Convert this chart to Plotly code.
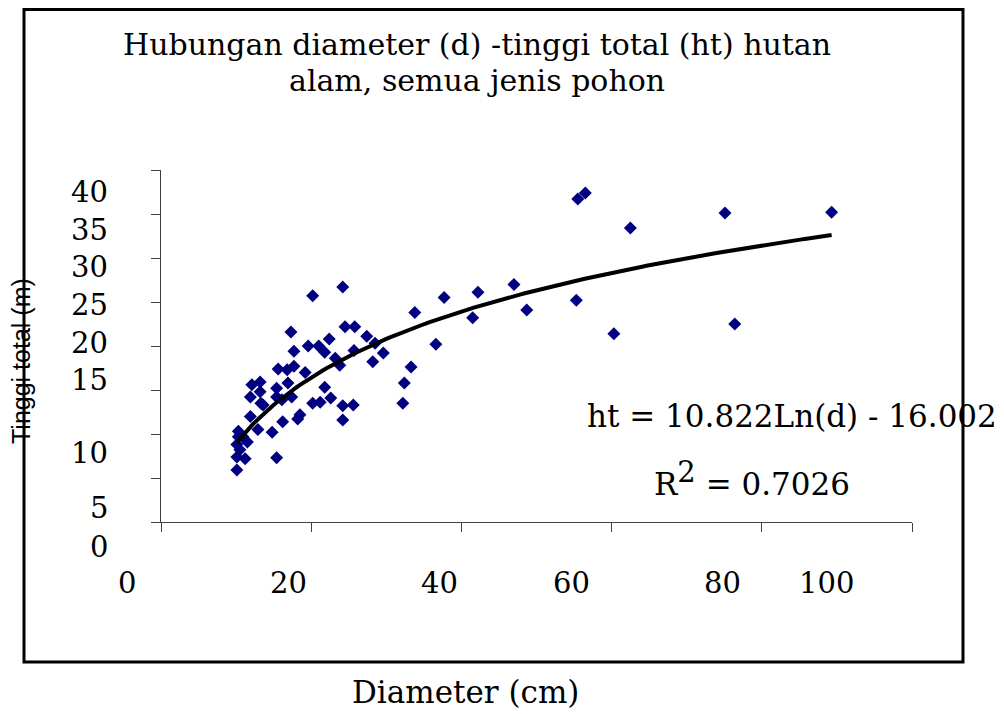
import numpy as np
import plotly.graph_objects as go

# Field measurements: stem diameter (cm) and total tree height (m)
diameter_cm = [
    56.5, 55.5, 62.5, 75.1, 89.3, 48.7, 55.3, 60.3, 76.4, 47.0,
    42.2, 37.7, 41.5, 33.8, 36.6, 33.3, 32.4, 32.2, 29.6, 28.5,
    27.4, 28.2, 24.2, 20.2, 24.5, 25.8, 17.3, 22.4, 19.6, 21.0,
    21.8, 25.7, 17.7, 23.2, 23.8, 15.6, 17.7, 19.2, 12.1, 13.2,
    11.9, 13.2, 15.4, 16.9, 15.4, 16.1, 17.4, 13.3, 21.8, 22.6,
    20.2, 21.2, 18.5, 18.2, 24.2, 25.6, 24.2, 11.9, 12.9, 16.2,
    14.8, 15.4, 10.3, 11.5, 10.1, 10.5, 10.1, 11.2, 10.1, 13.6,
    10.9, 16.8, 10.3,
]
tinggi_m = [
    37.4, 36.7, 33.4, 35.1, 35.2, 24.1, 25.2, 21.4, 22.5, 27.0,
    26.1, 25.5, 23.2, 23.8, 20.2, 17.6, 15.8, 13.5, 19.2, 20.3,
    21.1, 18.2, 26.7, 25.7, 22.2, 22.2, 21.6, 20.8, 20.0, 20.0,
    19.3, 19.5, 19.4, 18.6, 17.8, 17.4, 17.7, 17.0, 15.6, 15.9,
    14.2, 14.8, 15.2, 15.8, 14.2, 13.9, 14.2, 13.5, 15.3, 14.1,
    13.5, 13.6, 12.2, 11.7, 13.2, 13.3, 11.6, 12.0, 10.5, 11.4,
    10.2, 7.3, 10.3, 9.1, 8.8, 8.2, 7.4, 7.2, 5.9, 13.3,
    9.7, 17.3, 9.7,
]

# Logarithmic trendline: ht = a * ln(d) + b
trend_a = 10.822
trend_b = -16.002
r_squared = 0.7026

x_ticks = [0, 20, 40, 60, 80, 100]
y_ticks = [0, 5, 10, 15, 20, 25, 30, 35, 40]

# Per-label pixel offsets of the tick text relative to its tick
x_label_dx = [-34, -23, -22, -40, -39, -86]
y_label_dy = [-25, -30, -19, 10, 3, -3, -9, -16, -22]

SERIF = "DejaVu Serif"
SANS = "Liberation Sans, Arial, sans-serif"

# Plot-area geometry in pixels
W, H = 1004, 714
L, R, T, B = 161, 92, 170, 192
PW, PH = W - L - R, H - T - B


def px_x(px):
    return (px - L) / PW


def px_y(py):
    return (H - B - py) / PH


fig = go.Figure()

fig.add_trace(go.Scatter(
    x=diameter_cm, y=tinggi_m, mode="markers",
    marker=dict(symbol="diamond", size=10, color="#000080", line=dict(width=0)),
    showlegend=False, hoverinfo="x+y",
))

d_line = np.linspace(min(diameter_cm), max(diameter_cm), 200)
fig.add_trace(go.Scatter(
    x=d_line, y=trend_a * np.log(d_line) + trend_b, mode="lines",
    line=dict(color="black", width=4), showlegend=False, hoverinfo="skip",
))

axis_common = dict(
    showgrid=False, zeroline=False, showline=True, linecolor="#404040",
    linewidth=1.3, ticks="outside", ticklen=9, tickcolor="#404040",
    tickwidth=1.3, showticklabels=False, fixedrange=True,
)

fig.update_layout(
    width=W, height=H,
    margin=dict(l=L, r=R, t=T, b=B),
    paper_bgcolor="white", plot_bgcolor="white",
    xaxis=dict(range=[0, 100], tickvals=x_ticks, **axis_common),
    yaxis=dict(range=[0, 40], tickvals=y_ticks, **axis_common),
)

annotations = []

# Two-line chart title
title_lines = ["Hubungan diameter (d) -tinggi total (ht) hutan", "alam, semua jenis pohon"]
for line, py in zip(title_lines, [44, 81]):
    annotations.append(dict(
        x=px_x(477), xref="paper", y=px_y(py), yref="paper", text=line,
        showarrow=False, xanchor="center", yanchor="middle",
        font=dict(family=SERIF, size=30, color="black"),
    ))

for val, dx in zip(x_ticks, x_label_dx):
    annotations.append(dict(
        x=val, xref="x", y=0, yref="y", text=str(val), showarrow=False,
        xanchor="center", yanchor="middle", xshift=dx, yshift=-61,
        font=dict(family=SERIF, size=29, color="black"),
    ))
for val, dy in zip(y_ticks, y_label_dy):
    annotations.append(dict(
        x=0, xref="x", y=val, yref="y", text=str(val), showarrow=False,
        xanchor="right", yanchor="middle", xshift=-51, yshift=dy,
        font=dict(family=SERIF, size=29, color="black"),
    ))

# Axis titles
annotations.append(dict(
    x=px_x(465), xref="paper", y=px_y(692), yref="paper",
    text="Diameter (cm)", showarrow=False, xanchor="center", yanchor="middle",
    font=dict(family=SERIF, size=31, color="black"),
))
annotations.append(dict(
    x=px_x(21), xref="paper", y=px_y(361), yref="paper",
    text="Tinggi total (m)", showarrow=False, textangle=-90,
    xanchor="center", yanchor="middle",
    font=dict(family=SANS, size=25, color="black"),
))

# Trendline equation and goodness of fit
annotations.append(dict(
    x=px_x(792), xref="paper", y=px_y(416), yref="paper",
    text=f"ht = {trend_a:.3f}Ln(d) - {abs(trend_b):.3f}", showarrow=False,
    xanchor="center", yanchor="middle",
    font=dict(family=SERIF, size=31, color="black"),
))
annotations.append(dict(
    x=px_x(752), xref="paper", y=px_y(478), yref="paper",
    text=f"R<sup><span style='font-size:29px'>2</span></sup> = {r_squared:.4f}",
    showarrow=False, xanchor="center", yanchor="middle",
    font=dict(family=SERIF, size=31, color="black"),
))
fig.update_layout(annotations=annotations)

# Chart frame
fig.add_shape(
    type="rect", xref="paper", yref="paper",
    x0=px_x(24), x1=px_x(963), y0=px_y(662), y1=px_y(9.5),
    line=dict(color="black", width=3), fillcolor="rgba(0,0,0,0)", layer="above",
)

fig.write_html("out.html")
